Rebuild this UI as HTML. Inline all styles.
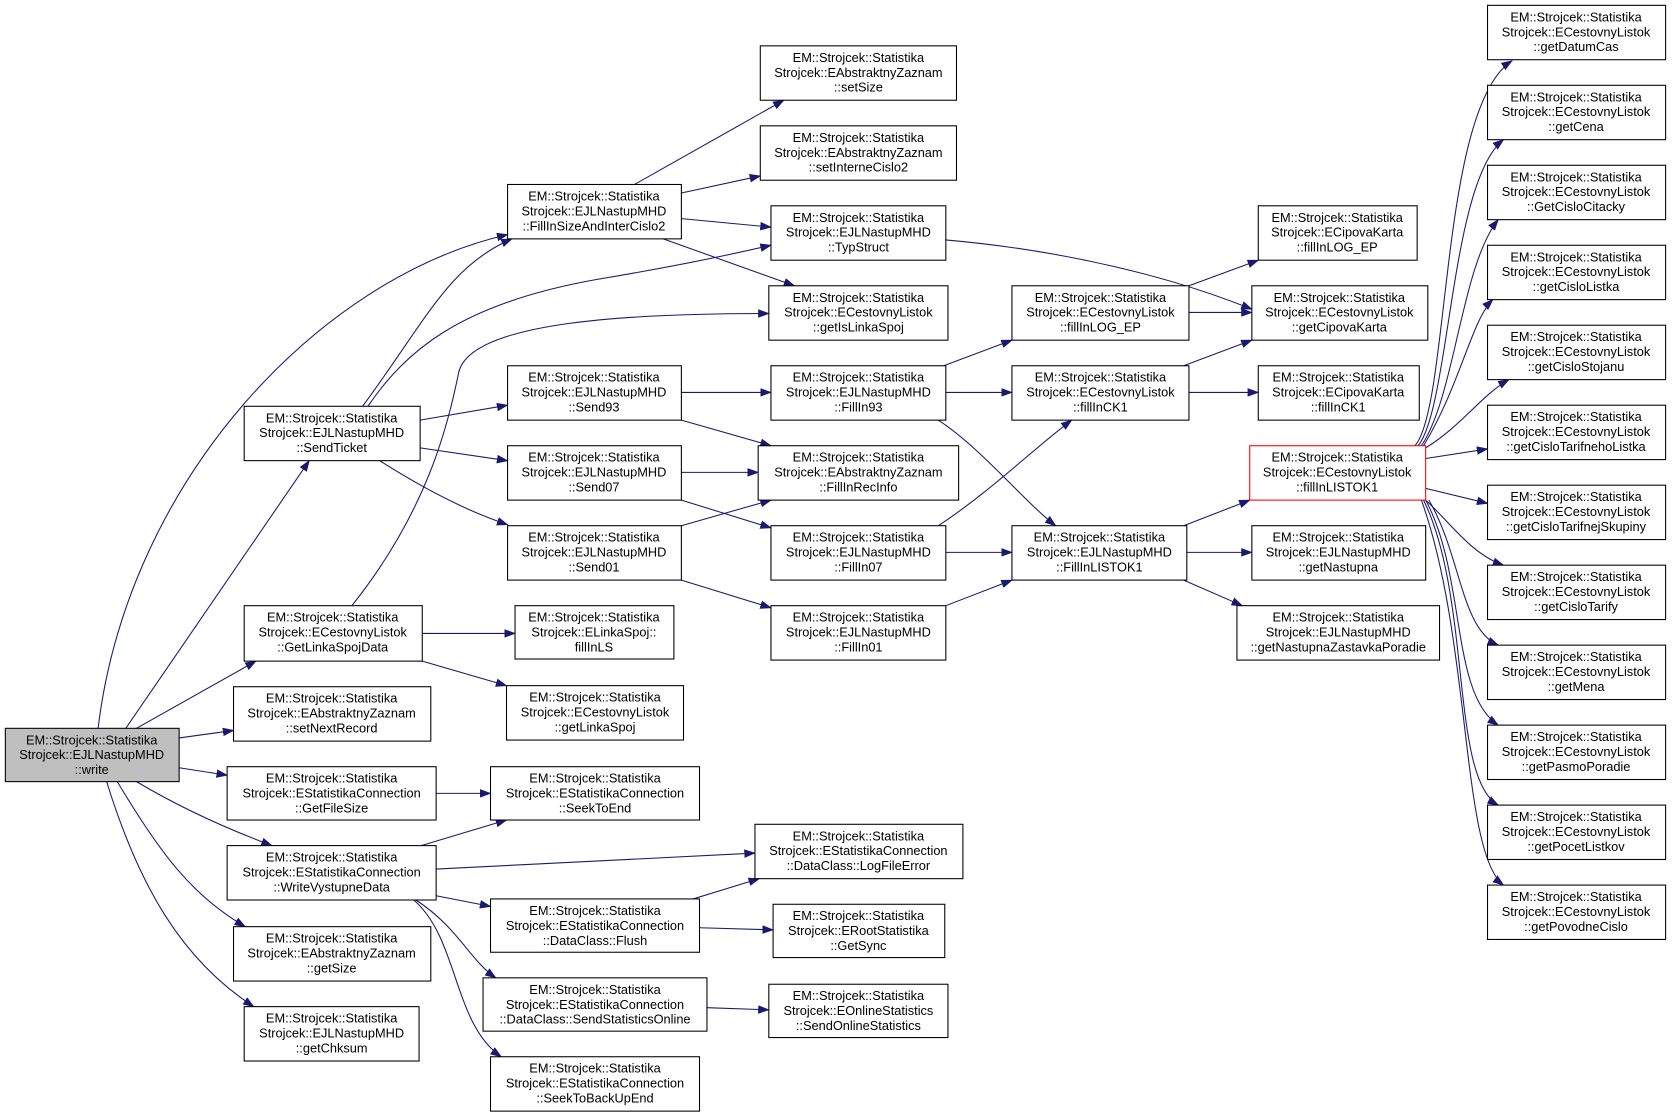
<!DOCTYPE html>
<html><head><meta charset="utf-8"><style>
html,body{margin:0;padding:0;background:#fff;}
svg{display:block;}
text{font-family:"Liberation Sans",Arial,sans-serif;font-size:12px;fill:#000;}
.b{fill:#fff;stroke:#000;stroke-width:1;}
.e{fill:none;stroke:#191970;stroke-width:1;}
</style></head><body>
<svg width="1672" height="1117" viewBox="0 0 1568 1047.5" preserveAspectRatio="none" xmlns="http://www.w3.org/2000/svg">
<defs><marker id="a" markerWidth="11" markerHeight="8" refX="10" refY="4" orient="auto" markerUnits="userSpaceOnUse"><path d="M0,0 L11,4 L0,8 z" fill="#191970"/></marker></defs>
<g class="e" marker-end="url(#a)">
<path d="M92,683 C120,450 300,260 476,220"/>
<path d="M118,683 L290,432"/>
<path d="M128,683 L240,620"/>
<path d="M168,692 L219,685"/>
<path d="M168,720 L213,727"/>
<path d="M128,733 C170,758 215,778 255,793"/>
<path d="M110,733 C150,800 180,840 230,869"/>
<path d="M100,733 C130,830 170,900 238,944"/>
<path d="M340,381 C400,300 420,250 480,224"/>
<path d="M345,381 C380,330 430,285 560,262 C620,252 680,240 723,230"/>
<path d="M394,394 L476,380"/>
<path d="M394,420 L476,432"/>
<path d="M356,432 C400,460 440,480 476,492"/>
<path d="M330,568 C400,480 420,400 430,350 C440,300 600,294 721,294"/>
<path d="M396,594 L483,594"/>
<path d="M396,620 L475,643"/>
<path d="M409,744 L460,744"/>
<path d="M395,793 L475,769"/>
<path d="M409,815 L708,800"/>
<path d="M409,840 L460,850"/>
<path d="M390,844 C430,870 440,900 465,917"/>
<path d="M388,844 C430,880 425,960 470,991"/>
<path d="M650,843 L712,824"/>
<path d="M656,870 L725,872"/>
<path d="M663,945 L721,947"/>
<path d="M595,173 L735,94"/>
<path d="M639,181 L713,165"/>
<path d="M639,205 L723,213"/>
<path d="M622,224 L745,268"/>
<path d="M639,368 L723,368"/>
<path d="M639,394 L723,418"/>
<path d="M639,443 L711,443"/>
<path d="M639,469 L723,495"/>
<path d="M639,493 L723,469"/>
<path d="M639,544 L723,570"/>
<path d="M885,343 L949,319"/>
<path d="M887,368 L949,368"/>
<path d="M880,394 C920,420 960,470 990,493"/>
<path d="M880,493 C930,460 970,420 1005,394"/>
<path d="M887,518 L949,518"/>
<path d="M887,568 L949,544"/>
<path d="M887,225 C1000,235 1100,260 1174,290"/>
<path d="M1115,268 L1180,244"/>
<path d="M1115,293 L1174,293"/>
<path d="M1110,343 L1174,319"/>
<path d="M1115,368 L1180,368"/>
<path d="M1110,493 L1172,469"/>
<path d="M1113,518 L1174,518"/>
<path d="M1110,544 L1165,568"/>
<path d="M1327,418 C1360,380 1350,100 1418,57"/>
<path d="M1330,418 C1360,380 1360,170 1410,131"/>
<path d="M1333,418 C1365,370 1370,250 1405,206"/>
<path d="M1335,418 C1370,360 1380,300 1400,281"/>
<path d="M1337,420 C1370,400 1390,370 1415,356"/>
<path d="M1337,430 L1395,421"/>
<path d="M1337,458 L1395,472"/>
<path d="M1337,469 C1360,490 1380,520 1410,530"/>
<path d="M1340,469 C1370,520 1370,590 1405,605"/>
<path d="M1337,469 C1375,540 1360,650 1405,680"/>
<path d="M1335,469 C1380,560 1360,730 1405,755"/>
<path d="M1333,469 C1380,600 1370,800 1410,830"/>
</g>
<g text-anchor="middle">
<rect x="5" y="683" width="163" height="50" fill="#bfbfbf" stroke="#000"/><text x="86" y="698">EM::Strojcek::Statistika</text><text x="86" y="712">Strojcek::EJLNastupMHD</text><text x="86" y="726">::write</text>

<rect class="b" x="229" y="381" width="165" height="51"/><text x="311" y="396">EM::Strojcek::Statistika</text><text x="311" y="410">Strojcek::EJLNastupMHD</text><text x="311" y="424">::SendTicket</text>
<rect class="b" x="229" y="568" width="167" height="52"/><text x="312" y="583">EM::Strojcek::Statistika</text><text x="312" y="597">Strojcek::ECestovnyListok</text><text x="312" y="611">::GetLinkaSpojData</text>
<rect class="b" x="219" y="644" width="185" height="51"/><text x="311" y="659">EM::Strojcek::Statistika</text><text x="311" y="673">Strojcek::EAbstraktnyZaznam</text><text x="311" y="687">::setNextRecord</text>
<rect class="b" x="213" y="719" width="196" height="50"/><text x="311" y="734">EM::Strojcek::Statistika</text><text x="311" y="748">Strojcek::EStatistikaConnection</text><text x="311" y="762">::GetFileSize</text>
<rect class="b" x="213" y="793" width="196" height="51"/><text x="311" y="808">EM::Strojcek::Statistika</text><text x="311" y="822">Strojcek::EStatistikaConnection</text><text x="311" y="836">::WriteVystupneData</text>
<rect class="b" x="219" y="869" width="185" height="51"/><text x="311" y="884">EM::Strojcek::Statistika</text><text x="311" y="898">Strojcek::EAbstraktnyZaznam</text><text x="311" y="912">::getSize</text>
<rect class="b" x="229" y="944" width="164" height="51"/><text x="311" y="959">EM::Strojcek::Statistika</text><text x="311" y="973">Strojcek::EJLNastupMHD</text><text x="311" y="987">::getChksum</text>

<rect class="b" x="476" y="173" width="163" height="51"/><text x="557" y="188">EM::Strojcek::Statistika</text><text x="557" y="202">Strojcek::EJLNastupMHD</text><text x="557" y="216">::FillInSizeAndInterCislo2</text>
<rect class="b" x="476" y="343" width="163" height="51"/><text x="557" y="358">EM::Strojcek::Statistika</text><text x="557" y="372">Strojcek::EJLNastupMHD</text><text x="557" y="386">::Send93</text>
<rect class="b" x="476" y="418" width="163" height="51"/><text x="557" y="433">EM::Strojcek::Statistika</text><text x="557" y="447">Strojcek::EJLNastupMHD</text><text x="557" y="461">::Send07</text>
<rect class="b" x="476" y="493" width="163" height="51"/><text x="557" y="508">EM::Strojcek::Statistika</text><text x="557" y="522">Strojcek::EJLNastupMHD</text><text x="557" y="536">::Send01</text>
<rect class="b" x="483" y="568" width="149" height="50"/><text x="557" y="583">EM::Strojcek::Statistika</text><text x="557" y="597">Strojcek::ELinkaSpoj::</text><text x="557" y="611">fillInLS</text>
<rect class="b" x="475" y="643" width="166" height="51"/><text x="558" y="658">EM::Strojcek::Statistika</text><text x="558" y="672">Strojcek::ECestovnyListok</text><text x="558" y="686">::getLinkaSpoj</text>
<rect class="b" x="460" y="719" width="196" height="50"/><text x="558" y="734">EM::Strojcek::Statistika</text><text x="558" y="748">Strojcek::EStatistikaConnection</text><text x="558" y="762">::SeekToEnd</text>
<rect class="b" x="460" y="843" width="196" height="50"/><text x="558" y="858">EM::Strojcek::Statistika</text><text x="558" y="872">Strojcek::EStatistikaConnection</text><text x="558" y="886">::DataClass::Flush</text>
<rect class="b" x="453" y="917" width="210" height="50"/><text x="558" y="932">EM::Strojcek::Statistika</text><text x="558" y="946">Strojcek::EStatistikaConnection</text><text x="558" y="960">::DataClass::SendStatisticsOnline</text>
<rect class="b" x="460" y="991" width="196" height="51"/><text x="558" y="1006">EM::Strojcek::Statistika</text><text x="558" y="1020">Strojcek::EStatistikaConnection</text><text x="558" y="1034">::SeekToBackUpEnd</text>

<rect class="b" x="713" y="43" width="184" height="51"/><text x="805" y="58">EM::Strojcek::Statistika</text><text x="805" y="72">Strojcek::EAbstraktnyZaznam</text><text x="805" y="86">::setSize</text>
<rect class="b" x="713" y="118" width="184" height="51"/><text x="805" y="133">EM::Strojcek::Statistika</text><text x="805" y="147">Strojcek::EAbstraktnyZaznam</text><text x="805" y="161">::setInterneCislo2</text>
<rect class="b" x="723" y="193" width="164" height="51"/><text x="805" y="208">EM::Strojcek::Statistika</text><text x="805" y="222">Strojcek::EJLNastupMHD</text><text x="805" y="236">::TypStruct</text>
<rect class="b" x="721" y="268" width="168" height="51"/><text x="805" y="283">EM::Strojcek::Statistika</text><text x="805" y="297">Strojcek::ECestovnyListok</text><text x="805" y="311">::getIsLinkaSpoj</text>
<rect class="b" x="723" y="343" width="164" height="51"/><text x="805" y="358">EM::Strojcek::Statistika</text><text x="805" y="372">Strojcek::EJLNastupMHD</text><text x="805" y="386">::FillIn93</text>
<rect class="b" x="711" y="418" width="188" height="51"/><text x="805" y="433">EM::Strojcek::Statistika</text><text x="805" y="447">Strojcek::EAbstraktnyZaznam</text><text x="805" y="461">::FillInRecInfo</text>
<rect class="b" x="723" y="493" width="164" height="51"/><text x="805" y="508">EM::Strojcek::Statistika</text><text x="805" y="522">Strojcek::EJLNastupMHD</text><text x="805" y="536">::FillIn07</text>
<rect class="b" x="723" y="568" width="164" height="51"/><text x="805" y="583">EM::Strojcek::Statistika</text><text x="805" y="597">Strojcek::EJLNastupMHD</text><text x="805" y="611">::FillIn01</text>
<rect class="b" x="708" y="773" width="195" height="51"/><text x="805" y="788">EM::Strojcek::Statistika</text><text x="805" y="802">Strojcek::EStatistikaConnection</text><text x="805" y="816">::DataClass::LogFileError</text>
<rect class="b" x="725" y="848" width="161" height="50"/><text x="805" y="863">EM::Strojcek::Statistika</text><text x="805" y="877">Strojcek::ERootStatistika</text><text x="805" y="891">::GetSync</text>
<rect class="b" x="721" y="923" width="168" height="50"/><text x="805" y="938">EM::Strojcek::Statistika</text><text x="805" y="952">Strojcek::EOnlineStatistics</text><text x="805" y="966">::SendOnlineStatistics</text>

<rect class="b" x="949" y="268" width="166" height="51"/><text x="1032" y="283">EM::Strojcek::Statistika</text><text x="1032" y="297">Strojcek::ECestovnyListok</text><text x="1032" y="311">::fillInLOG_EP</text>
<rect class="b" x="949" y="343" width="166" height="51"/><text x="1032" y="358">EM::Strojcek::Statistika</text><text x="1032" y="372">Strojcek::ECestovnyListok</text><text x="1032" y="386">::fillInCK1</text>
<rect class="b" x="949" y="493" width="164" height="51"/><text x="1031" y="508">EM::Strojcek::Statistika</text><text x="1031" y="522">Strojcek::EJLNastupMHD</text><text x="1031" y="536">::FillInLISTOK1</text>

<rect class="b" x="1180" y="193" width="149" height="51"/><text x="1254" y="208">EM::Strojcek::Statistika</text><text x="1254" y="222">Strojcek::ECipovaKarta</text><text x="1254" y="236">::fillInLOG_EP</text>
<rect class="b" x="1174" y="268" width="165" height="51"/><text x="1256" y="283">EM::Strojcek::Statistika</text><text x="1256" y="297">Strojcek::ECestovnyListok</text><text x="1256" y="311">::getCipovaKarta</text>
<rect class="b" x="1180" y="343" width="151" height="51"/><text x="1255" y="358">EM::Strojcek::Statistika</text><text x="1255" y="372">Strojcek::ECipovaKarta</text><text x="1255" y="386">::fillInCK1</text>
<rect x="1172" y="418" width="165" height="51" fill="#fff" stroke="#ff0000"/><text x="1254" y="433">EM::Strojcek::Statistika</text><text x="1254" y="447">Strojcek::ECestovnyListok</text><text x="1254" y="461">::fillInLISTOK1</text>
<rect class="b" x="1174" y="493" width="163" height="51"/><text x="1255" y="508">EM::Strojcek::Statistika</text><text x="1255" y="522">Strojcek::EJLNastupMHD</text><text x="1255" y="536">::getNastupna</text>
<rect class="b" x="1160" y="568" width="190" height="51"/><text x="1255" y="583">EM::Strojcek::Statistika</text><text x="1255" y="597">Strojcek::EJLNastupMHD</text><text x="1255" y="611">::getNastupnaZastavkaPoradie</text>

<rect class="b" x="1395" y="5" width="167" height="51"/><text x="1478" y="20">EM::Strojcek::Statistika</text><text x="1478" y="34">Strojcek::ECestovnyListok</text><text x="1478" y="48">::getDatumCas</text>
<rect class="b" x="1395" y="80" width="167" height="51"/><text x="1478" y="95">EM::Strojcek::Statistika</text><text x="1478" y="109">Strojcek::ECestovnyListok</text><text x="1478" y="123">::getCena</text>
<rect class="b" x="1395" y="155" width="167" height="51"/><text x="1478" y="170">EM::Strojcek::Statistika</text><text x="1478" y="184">Strojcek::ECestovnyListok</text><text x="1478" y="198">::GetCisloCitacky</text>
<rect class="b" x="1395" y="230" width="167" height="51"/><text x="1478" y="245">EM::Strojcek::Statistika</text><text x="1478" y="259">Strojcek::ECestovnyListok</text><text x="1478" y="273">::getCisloListka</text>
<rect class="b" x="1395" y="305" width="167" height="51"/><text x="1478" y="320">EM::Strojcek::Statistika</text><text x="1478" y="334">Strojcek::ECestovnyListok</text><text x="1478" y="348">::getCisloStojanu</text>
<rect class="b" x="1395" y="380" width="167" height="51"/><text x="1478" y="395">EM::Strojcek::Statistika</text><text x="1478" y="409">Strojcek::ECestovnyListok</text><text x="1478" y="423">::getCisloTarifnehoListka</text>
<rect class="b" x="1395" y="455" width="167" height="51"/><text x="1478" y="470">EM::Strojcek::Statistika</text><text x="1478" y="484">Strojcek::ECestovnyListok</text><text x="1478" y="498">::getCisloTarifnejSkupiny</text>
<rect class="b" x="1395" y="530" width="167" height="51"/><text x="1478" y="545">EM::Strojcek::Statistika</text><text x="1478" y="559">Strojcek::ECestovnyListok</text><text x="1478" y="573">::getCisloTarify</text>
<rect class="b" x="1395" y="605" width="167" height="51"/><text x="1478" y="620">EM::Strojcek::Statistika</text><text x="1478" y="634">Strojcek::ECestovnyListok</text><text x="1478" y="648">::getMena</text>
<rect class="b" x="1395" y="680" width="167" height="51"/><text x="1478" y="695">EM::Strojcek::Statistika</text><text x="1478" y="709">Strojcek::ECestovnyListok</text><text x="1478" y="723">::getPasmoPoradie</text>
<rect class="b" x="1395" y="755" width="167" height="51"/><text x="1478" y="770">EM::Strojcek::Statistika</text><text x="1478" y="784">Strojcek::ECestovnyListok</text><text x="1478" y="798">::getPocetListkov</text>
<rect class="b" x="1395" y="830" width="167" height="51"/><text x="1478" y="845">EM::Strojcek::Statistika</text><text x="1478" y="859">Strojcek::ECestovnyListok</text><text x="1478" y="873">::getPovodneCislo</text>
</g>
</svg>
</body></html>
